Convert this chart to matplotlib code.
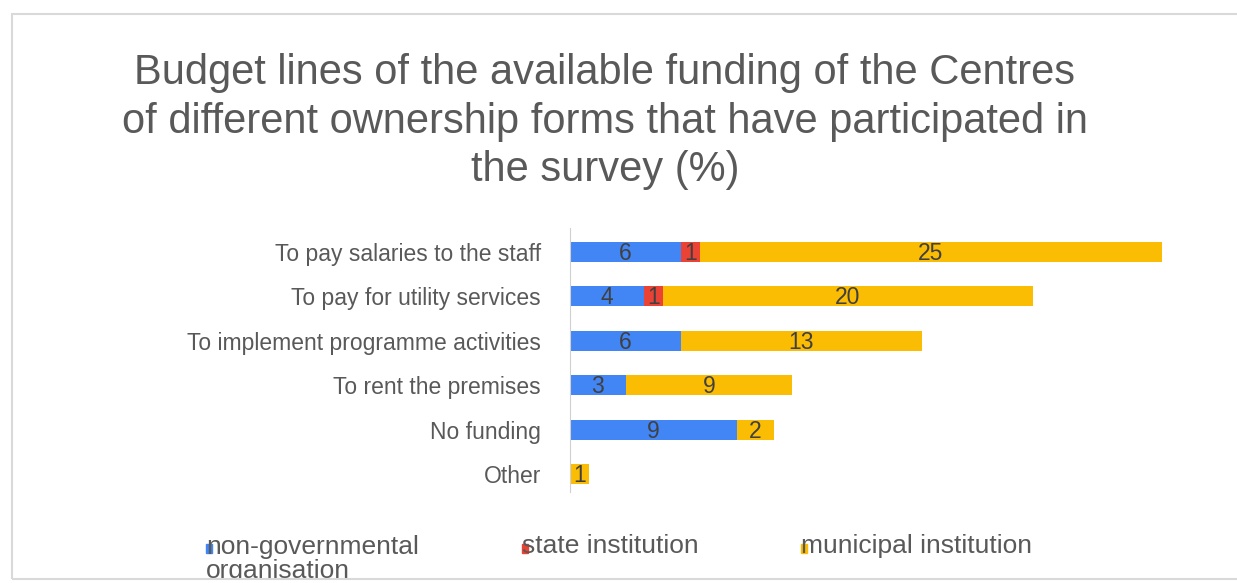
import matplotlib.pyplot as plt
from matplotlib.patches import Rectangle

plt.rcParams['font.family'] = ['Liberation Sans', 'DejaVu Sans']

categories = ["To pay salaries to the staff", "To pay for utility services",
              "To implement programme activities", "To rent the premises",
              "No funding", "Other"]
ngo = [6, 4, 6, 3, 9, 0]
state = [1, 1, 0, 0, 0, 0]
municipal = [25, 20, 13, 9, 2, 1]
series_names = ["non-governmental\norganisation", "state institution", "municipal institution"]
colors = ["#4285F4", "#EA4335", "#FBBC04"]

W, H = 1237, 583
fig = plt.figure(figsize=(W / 100, H / 100), dpi=100)

# baseline of a multi-line text is that of its last line
fig.text(605 / W, 1 - 181 / H,
         "Budget lines of the available funding of the Centres\n"
         "of different ownership forms that have participated in\n"
         "the survey (%)",
         ha="center", va="baseline", fontsize=30, color="#595959",
         linespacing=1.27)

ax = fig.add_axes([570 / W, 1 - 492 / H, 629 / W, 264 / H])
y = list(range(len(categories)))
left = [0] * len(categories)
for vals, col in zip([ngo, state, municipal], colors):
    ax.barh(y, vals, left=left, height=0.45, color=col)
    for i, v in enumerate(vals):
        if v > 0:
            ax.text(left[i] + v / 2, i + 0.03, str(v), ha="center", va="center",
                    fontsize=16.5, color="#404040")
    left = [a + b for a, b in zip(left, vals)]

ax.set_xlim(0, 34)
ax.set_ylim(5.4, -0.54)
ax.set_yticks(y)
ax.set_yticklabels(categories, fontsize=16.5, color="#595959")
ax.tick_params(axis="y", length=0, pad=21)
ax.set_xticks([])
for s in ["top", "right", "bottom"]:
    ax.spines[s].set_visible(False)
ax.spines["left"].set_color("#d0d0d0")

# legend row below the bars
legend_x = [206, 522, 801]
for name, col, lx in zip(series_names, colors, legend_x):
    nlines = name.count("\n")
    fig.text(lx / W, 1 - (553 + 25 * nlines) / H, name, ha="left", va="baseline",
             fontsize=19, color="#595959", linespacing=1.0)
    fig.add_artist(Rectangle((lx / W, 1 - 553 / H), 6 / W, 9 / H,
                             transform=fig.transFigure, color=col, zorder=3))

# light frame; everything under its bottom edge is blanked out
fig.add_artist(Rectangle((0, 0), 1, 1 - 579 / H, transform=fig.transFigure,
                         color="white", zorder=4))
fig.add_artist(Rectangle((12 / W, 1 - 579 / H), (W - 10) / W, (579 - 14) / H,
                         transform=fig.transFigure, fill=False,
                         edgecolor="#d9d9d9", linewidth=1.5, zorder=5))

fig.savefig("out.png", dpi=100)
